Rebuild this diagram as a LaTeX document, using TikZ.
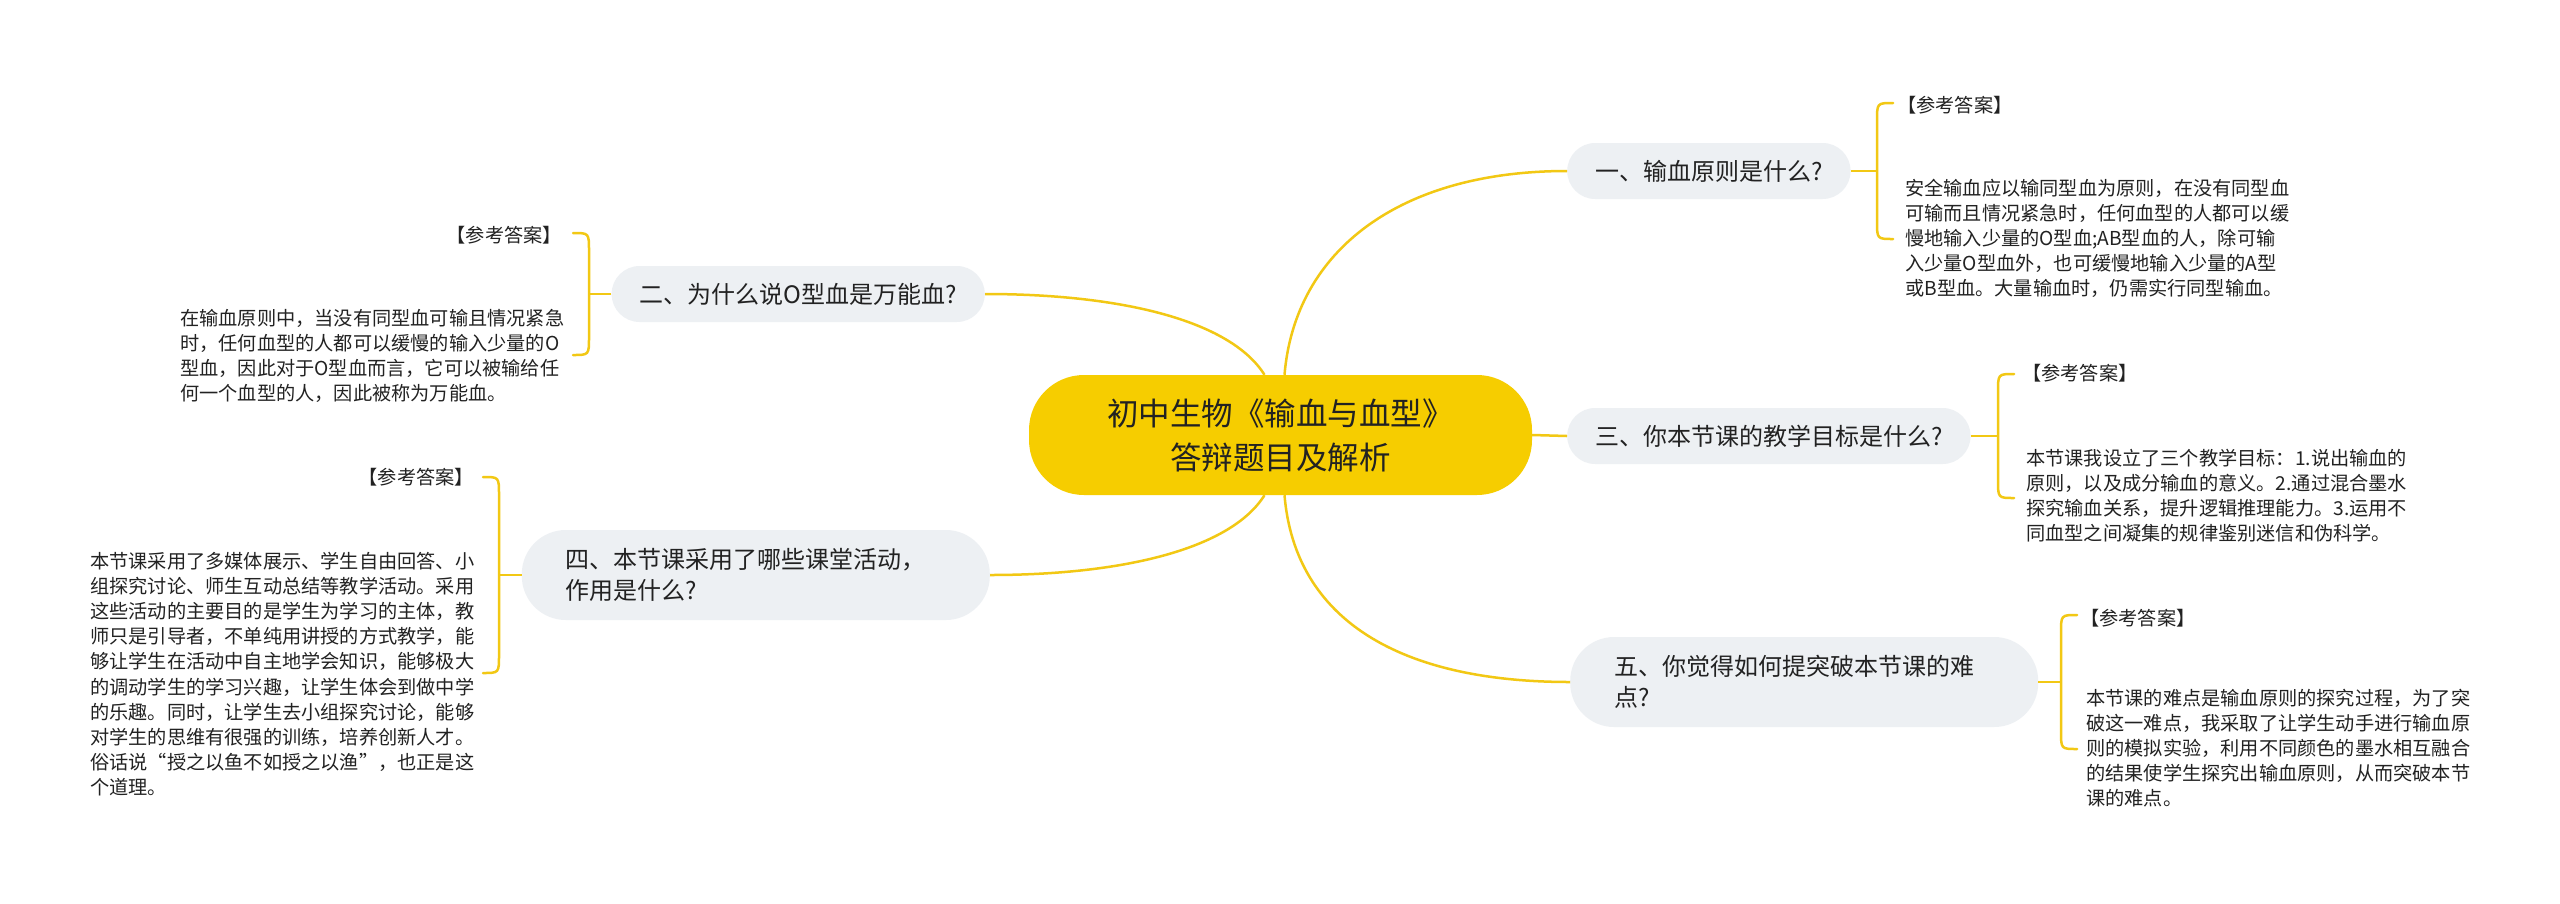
\documentclass[tikz,border=0pt]{standalone}
\usepackage{fontspec}
\setmainfont{Noto Sans CJK SC}
\usetikzlibrary{positioning, calc}
\definecolor{cRoot}{RGB}{246,205,0}
\definecolor{cLink}{RGB}{242,200,20}
\definecolor{cTopic}{RGB}{237,240,243}
\definecolor{cInk}{RGB}{34,34,34}
\tikzset{
	root/.style     ={rectangle, rounded corners=55pt, minimum width=503pt, minimum height=120pt, align=center, fill=cRoot, text=cInk, font=\fontsize{31.5}{44}\selectfont},
	topic/.style    ={rectangle, rounded corners=28pt, minimum height=56pt, inner xsep=28pt, fill=cTopic, text=cInk, font=\fontsize{24}{31}\selectfont},
	topicwide/.style={topic, rounded corners=44pt, minimum height=90pt, inner xsep=44pt, text width=380pt, align=left},
	% answer blocks beside each topic
	tag/.style      ={inner sep=0pt, text=cInk, font=\fontsize{19.2}{25.2}\selectfont},
	ans/.style      ={tag, anchor=base west, text width=392pt, align=left},
	link/.style     ={draw=cLink, line width=2.5pt},
	brace/.style    ={draw=cLink, line width=2.5pt, line cap=round},
}
\begin{document}
\begin{tikzpicture}[x=1pt, y=-1pt]
	\useasboundingbox[fill=white] (0,0) rectangle (2560,903);
	\node[root] (root) at (1280.5,435) {初中生物《输血与血型》\\答辩题目及解析};
	\node[topic, anchor=west] (q1) at (1567,171) {一、输血原则是什么?};
	\node[topic, anchor=east] (q2) at (985,294) {二、为什么说O型血是万能血?};
	\node[topic, anchor=west] (q3) at (1567,436) {三、你本节课的教学目标是什么?};
	\node[topicwide, anchor=east] (q4) at (990,575) {四、本节课采用了哪些课堂活动，\\作用是什么?};
	\node[topicwide, anchor=west] (q5) at (1570,682) {五、你觉得如何提突破本节课的难\\点?};
	\draw[link] ([xshift=4pt]root.north) .. controls (1295,250) and (1400,171) .. (q1.west);
	\draw[link] ([xshift=-16pt]root.north) .. controls (1230,320) and (1120,294) .. (q2.east);
	\draw[link] (root.east) -- (q3.west);
	\draw[link] ([xshift=-16pt]root.south) .. controls (1230,550) and (1120,575) .. (q4.east);
	\draw[link] ([xshift=4pt]root.south) .. controls (1295,620) and (1400,682) .. (q5.west);
	% answer 1
	\coordinate (b1) at (1877,171);
	\draw[brace] (1893,103) .. controls (1877,103) .. (1877,121) -- (1877,221) .. controls (1877,239) .. (1893,239);
	\draw[link] (q1.east) -- (b1);
	\node[tag, anchor=base west] (k1) at (1897,112) {【参考答案】};
	\node[ans] (a1) at (1905,195) {安全输血应以输同型血为原则，在没有同型血\\可输而且情况紧急时，任何血型的人都可以缓\\慢地输入少量的O型血;AB型血的人，除可输\\入少量O型血外，也可缓慢地输入少量的A型\\或B型血。大量输血时，仍需实行同型输血。};
	% answer 2
	\coordinate (b2) at (589,294);
	\draw[brace] (573,233) .. controls (589,233) .. (589,251) -- (589,337) .. controls (589,355) .. (573,355);
	\draw[link] (q2.west) -- (b2);
	\node[tag, anchor=base east] (k2) at (562,242) {【参考答案】};
	\node[ans] (a2) at (180,325) {在输血原则中，当没有同型血可输且情况紧急\\时，任何血型的人都可以缓慢的输入少量的O\\型血，因此对于O型血而言，它可以被输给任\\何一个血型的人，因此被称为万能血。};
	% answer 3
	\coordinate (b3) at (1998,436);
	\draw[brace] (2014,374) .. controls (1998,374) .. (1998,392) -- (1998,480) .. controls (1998,498) .. (2014,498);
	\draw[link] (q3.east) -- (b3);
	\node[tag, anchor=base west] (k3) at (2022,380) {【参考答案】};
	\node[ans] (a3) at (2026,465) {本节课我设立了三个教学目标：1.说出输血的\\原则，以及成分输血的意义。2.通过混合墨水\\探究输血关系，提升逻辑推理能力。3.运用不\\同血型之间凝集的规律鉴别迷信和伪科学。};
	% answer 4
	\coordinate (b4) at (499,575);
	\draw[brace] (483,477) .. controls (499,477) .. (499,495) -- (499,655) .. controls (499,673) .. (483,673);
	\draw[link] (q4.west) -- (b4);
	\node[tag, anchor=base east] (k4) at (474,484) {【参考答案】};
	\node[ans] (a4) at (90,568) {本节课采用了多媒体展示、学生自由回答、小\\组探究讨论、师生互动总结等教学活动。采用\\这些活动的主要目的是学生为学习的主体，教\\师只是引导者，不单纯用讲授的方式教学，能\\够让学生在活动中自主地学会知识，能够极大\\的调动学生的学习兴趣，让学生体会到做中学\\的乐趣。同时，让学生去小组探究讨论，能够\\对学生的思维有很强的训练，培养创新人才。\\俗话说“授之以鱼不如授之以渔”，也正是这\\个道理。};
	% answer 5
	\coordinate (b5) at (2061,682);
	\draw[brace] (2077,615) .. controls (2061,615) .. (2061,633) -- (2061,731) .. controls (2061,749) .. (2077,749);
	\draw[link] (q5.east) -- (b5);
	\node[tag, anchor=base west] (k5) at (2080,625) {【参考答案】};
	\node[ans] (a5) at (2086,705) {本节课的难点是输血原则的探究过程，为了突\\破这一难点，我采取了让学生动手进行输血原\\则的模拟实验，利用不同颜色的墨水相互融合\\的结果使学生探究出输血原则，从而突破本节\\课的难点。};
\end{tikzpicture}
\end{document}
